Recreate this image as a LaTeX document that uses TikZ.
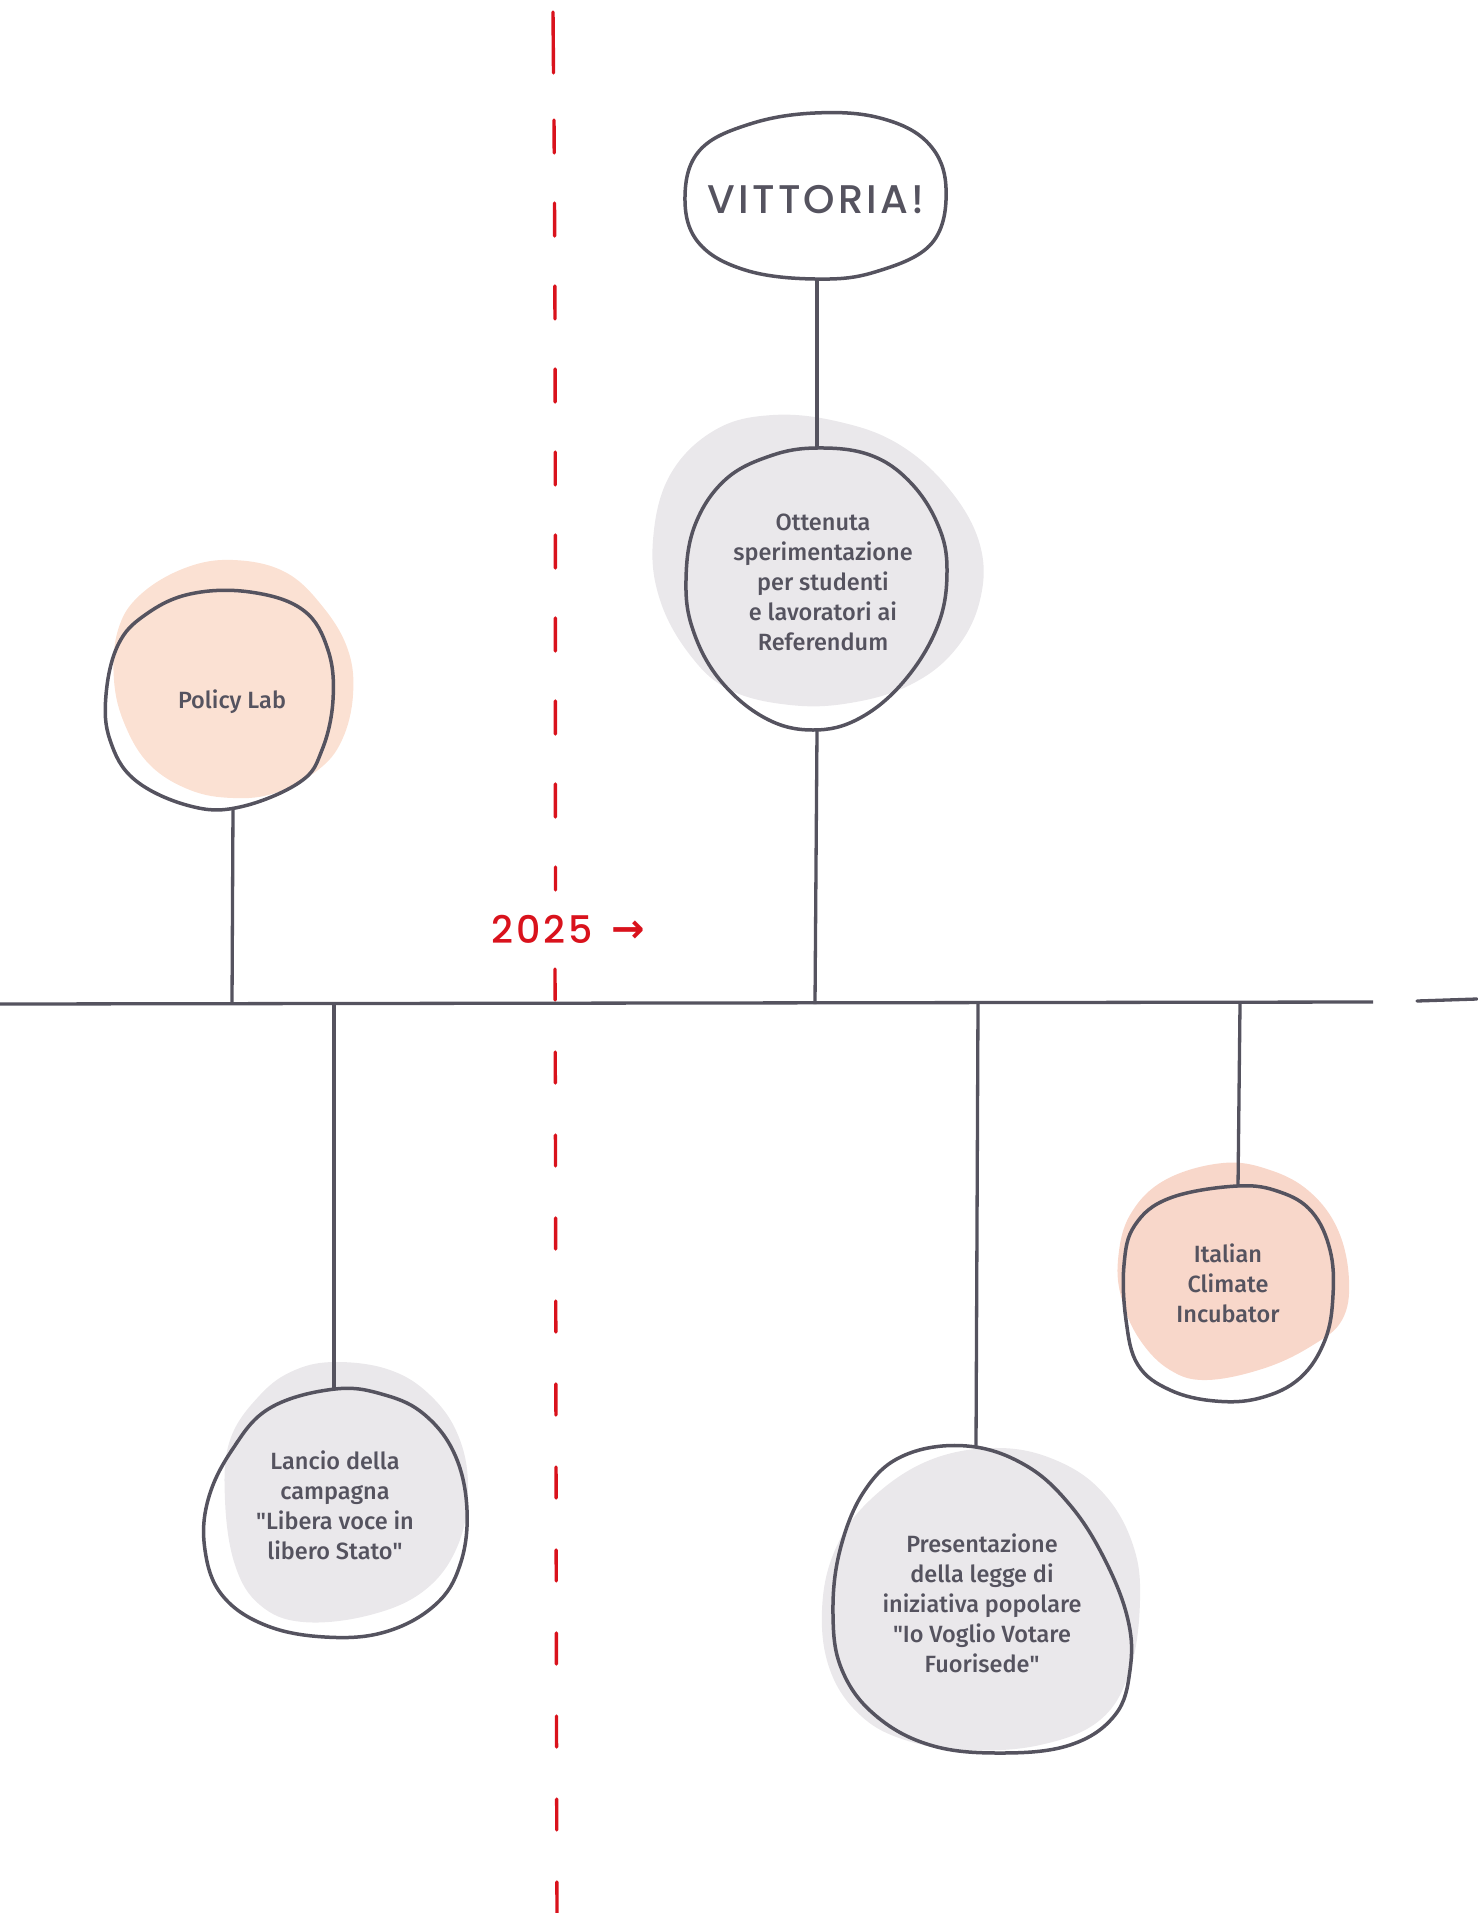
\documentclass[tikz,border=0pt]{standalone}
\usepackage{fontspec}
\setmainfont{Fira Sans}[UprightFont=* Medium]
\newfontfamily\handfont{Poppins}[UprightFont=* Medium, LetterSpace=8]
\newfontfamily\symfont{DejaVu Sans}
\definecolor{ink}{HTML}{55535F}
\definecolor{redline}{HTML}{D9121C}
\definecolor{graybl}{HTML}{EAE8EB}
\definecolor{peach}{HTML}{FBE1D3}
\definecolor{peachb}{HTML}{F8D7CA}
\begin{document}
\begin{tikzpicture}[x=1pt,y=-1pt,
  outline/.style={draw=ink, line width=3.5pt, line join=round},
  link/.style={draw=ink, line width=3.3pt},
  label/.style={text=ink, font=\fontsize{23.5}{30}\selectfont, align=center, inner sep=0pt},
  redd/.style={draw=redline, line width=3.4pt, line cap=round},
  sm/.style={smooth cycle, tension=0.65}]
\useasboundingbox (0,0) rectangle (1477,1913);

% background blobs
\fill[graybl] plot[sm] coordinates {(773,415) (840,422) (900,445) (950,490) (980,545) (980,600) (955,650) (910,685) (850,703) (790,705) (730,690) (690,655) (660,600) (653,540) (670,475) (715,430)};
\fill[peach] plot[sm] coordinates {(233,560) (285,572) (323,607) (348,650) (353,695) (342,740) (318,770) (275,793) (233,798) (190,790) (150,765) (125,725) (114,680) (118,630) (140,595) (185,568)};
\fill[graybl] plot[sm] coordinates {(337,1362) (390,1370) (430,1395) (458,1435) (468,1487) (458,1545) (425,1590) (370,1615) (303,1622) (260,1605) (235,1565) (225,1500) (230,1440) (260,1395) (295,1370)};
\fill[graybl] plot[sm] coordinates {(1000,1448) (1060,1462) (1105,1495) (1133,1545) (1140,1600) (1130,1670) (1100,1720) (1040,1745) (967,1750) (905,1740) (860,1715) (830,1670) (822,1610) (835,1550) (870,1500) (930,1460)};
\fill[peachb] plot[sm] coordinates {(1223,1163) (1270,1170) (1310,1192) (1338,1230) (1349,1280) (1342,1320) (1313,1345) (1265,1368) (1207,1380) (1170,1370) (1140,1340) (1122,1300) (1118,1260) (1130,1215) (1165,1180)};

% red dashed year line
\draw[redd] (553,12) -- (553.5,73);
\draw[redd, dash pattern=on 33pt off 50pt] (554,120) .. controls (556,400) and (555,700) .. (555.5,890);
\draw[redd, dash pattern=on 31pt off 52pt] (555,969) .. controls (556,1300) and (556,1600) .. (557,1913);

% timeline
\coordinate (tl-start) at (0,1004);
\coordinate (tl-end) at (1373,1002);
\coordinate (tl2-start) at (1417,1001);
\coordinate (tl2-end) at (1477,999);
\draw[link] (tl-start) -- (tl-end);
\draw[link, line cap=round] (tl2-start) -- (tl2-end);

% outlines
\draw[outline] plot[sm] coordinates {(815,113) (880,118) (928,143) (946,188) (932,243) (875,272) (815,279) (745,270) (698,242) (685,196) (700,150) (750,124)};
\draw[outline] plot[sm] coordinates {(817,448) (870,455) (910,482) (938,525) (947,570) (938,625) (905,680) (860,718) (813,730) (765,718) (720,680) (693,630) (686,580) (695,525) (725,480) (770,456)};
\draw[outline] plot[sm] coordinates {(190,594) (250,592) (303,610) (328,650) (333,700) (322,750) (300,782) (240,807) (190,806) (135,780) (110,740) (106,695) (118,645) (145,615)};
\draw[outline] plot[sm] coordinates {(335,1389) (385,1395) (425,1415) (455,1455) (467,1510) (460,1565) (435,1605) (385,1632) (325,1637) (265,1625) (222,1595) (205,1550) (208,1500) (232,1450) (270,1408)};
\draw[outline] plot[sm] coordinates {(967,1446) (1025,1465) (1070,1505) (1105,1560) (1128,1620) (1130,1670) (1115,1715) (1070,1745) (1000,1753) (930,1745) (875,1715) (842,1670) (833,1615) (840,1550) (865,1490) (905,1455)};
\draw[outline] plot[sm] coordinates {(1237,1186) (1280,1192) (1312,1212) (1330,1250) (1333,1295) (1325,1340) (1300,1378) (1260,1398) (1215,1401) (1170,1390) (1138,1365) (1126,1320) (1124,1265) (1135,1225) (1170,1198)};

% anchor points of the bubbles
\coordinate (vit-b) at (817,279);
\coordinate (ott-t) at (817,448);
\coordinate (ott-b) at (817,730);
\coordinate (ott-tl) at (815,1004);
\coordinate (pol-b) at (233,807);
\coordinate (pol-tl) at (232,1004);
\coordinate (lan-tl) at (334,1004);
\coordinate (lan-t) at (334,1389);
\coordinate (pre-tl) at (978,1004);
\coordinate (pre-t) at (976,1447);
\coordinate (ita-tl) at (1240,1004);
\coordinate (ita-t) at (1238,1187);

% connectors
\draw[link] (vit-b) -- (ott-t);
\draw[link] (ott-b) -- (ott-tl);
\draw[link] (pol-b) -- (pol-tl);
\draw[link] (lan-tl) -- (lan-t);
\draw[link] (pre-tl) -- (pre-t);
\draw[link] (ita-tl) -- (ita-t);

% texts
\node[text=ink, inner sep=0pt, font=\handfont\fontsize{40}{40}\selectfont] (vit) at (816,200) {VITTORIA!};
\node[text=redline, inner sep=0pt, font=\fontsize{38}{38}\selectfont] (year) at (568,929) {{\handfont 2025}\hspace{18pt}\raisebox{1pt}{\symfont\bfseries\fontsize{40}{40}\selectfont →}};
\node[label] (ott) at (823,582) {Ottenuta\\sperimentazione\\per studenti\\e lavoratori ai\\Referendum};
\node[label] (pol) at (232,702) {Policy Lab};
\node[label] (lan) at (335,1505) {Lancio della\\campagna\\\textquotedbl Libera voce in\\libero Stato\textquotedbl};
\node[label] (pre) at (982,1603) {Presentazione\\della legge di\\iniziativa popolare\\\textquotedbl Io Voglio Votare\\Fuorisede\textquotedbl};
\node[label] (ita) at (1228,1283) {Italian\\Climate\\Incubator};
\end{tikzpicture}
\end{document}
